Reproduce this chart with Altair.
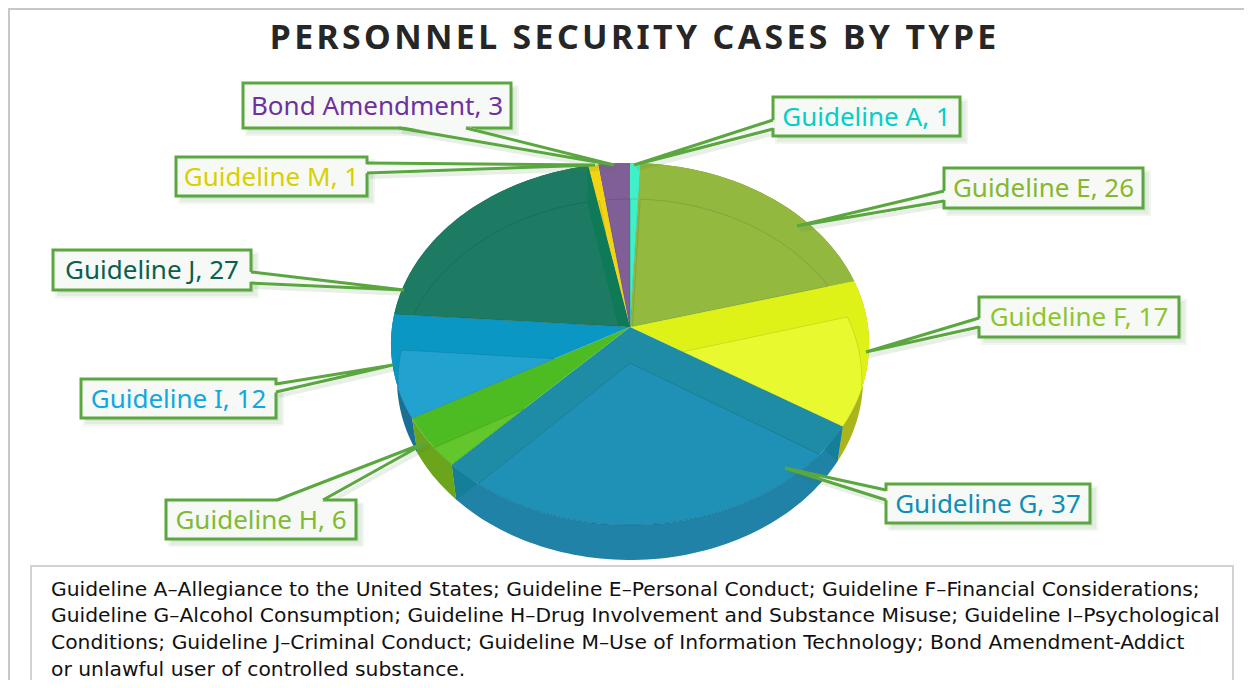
import math
import altair as alt
import pandas as pd

# ---- chart values ----
categories = ["Guideline A", "Guideline E", "Guideline F", "Guideline G", "Guideline H",
              "Guideline I", "Guideline J", "Guideline M", "Bond Amendment"]
values = [1, 26, 17, 37, 6, 12, 27, 1, 3]
label_colors = ["#05cdc8", "#86b82f", "#8dc52f", "#0d8fb5", "#7fbb35", "#0fa8e0", "#0b5f4e", "#d9d000", "#7030a0"]
band_colors = ["#3ff0c8", "#93b83f", "#dff218", "#1e8ca5", "#4dbb22", "#0b97c4", "#1d7b63", "#f2d414", "#7f5f96"]
inner_colors = ["#3ff0c8", "#93b93f", "#e8f92f", "#1f90b6", "#62c72b", "#22a3cf", "#1d7b64", "#f2d414", "#7f5f96"]
wall_colors = ["#2cc09a", "#6f9a2a", "#a9b51a", "#1f82a6", "#6aa51b", "#1a6f95", "#125f4a", "#b9a010", "#5a4570"]
title_text = "PERSONNEL SECURITY CASES BY TYPE"
note_lines = [
    "Guideline A–Allegiance to the United States; Guideline E–Personal Conduct; Guideline F–Financial Considerations;",
    "Guideline G–Alcohol Consumption; Guideline H–Drug Involvement and Substance Misuse; Guideline I–Psychological",
    "Conditions; Guideline J–Criminal Conduct; Guideline M–Use of Information Technology; Bond Amendment-Addict",
    "or unlawful user of controlled substance.",
]

# ---- layout (page pixels) ----
CX, CY = 630, 327
RX, RY, PERSP = 238, 179.4, 0.0939
# box x0, x1, y0, y1 ; leader base a, base b, tip
callouts = {
    "Guideline A": (773, 960, 97, 136, (773, 120), (773, 129), (634, 165)),
    "Guideline E": (944, 1143, 168, 208, (944, 191), (944, 201), (797, 226)),
    "Guideline F": (979, 1179, 297, 337, (979, 318), (979, 327), (866, 352)),
    "Guideline G": (886, 1090, 484, 523, (886, 490), (886, 500), (785, 468)),
    "Guideline H": (166, 356, 500, 539, (277, 500), (323, 500), (427, 442)),
    "Guideline I": (81, 276, 379, 418, (276, 384), (276, 392), (393, 365)),
    "Guideline J": (53, 251, 250, 290, (251, 272), (251, 283), (404, 290)),
    "Guideline M": (176, 367, 157, 196, (367, 163), (367, 173), (595, 165)),
    "Bond Amendment": (243, 511, 83, 128, (399, 128), (466, 128), (614, 165)),
}


def persp(theta):
    u, v = math.sin(theta), math.cos(theta)
    d = 1 + PERSP * v
    return CX + RX * u / d, CY - RY * v / d


def lower(p):
    return CX + (p[0] - CX) * 0.975, p[1] + 35


def arc(t0, t1, fn):
    n = max(2, int(abs(t1 - t0) / math.radians(1.5)))
    return [fn(t0 + (t1 - t0) * i / n) for i in range(n + 1)]


def clip_convex(poly, clipper):
    area = sum(clipper[i][0] * clipper[(i + 1) % len(clipper)][1] - clipper[(i + 1) % len(clipper)][0] * clipper[i][1]
               for i in range(len(clipper)))
    sign = 1 if area > 0 else -1
    out = poly
    for i in range(len(clipper)):
        a, b = clipper[i], clipper[(i + 1) % len(clipper)]
        if abs(a[0] - b[0]) + abs(a[1] - b[1]) < 1e-9:
            continue
        side = lambda p: sign * ((b[0] - a[0]) * (p[1] - a[1]) - (b[1] - a[1]) * (p[0] - a[0]))
        new = []
        for j in range(len(out)):
            p, q = out[j], out[(j + 1) % len(out)]
            sp, sq = side(p), side(q)
            if sp >= 0:
                new.append(p)
            if sp * sq < 0:
                t = sp / (sp - sq)
                new.append((p[0] + t * (q[0] - p[0]), p[1] + t * (q[1] - p[1])))
        out = new
        if not out:
            break
    return out


def feat(points, fill="none", stroke="none"):
    pts = [list(p) for p in points]
    pts = pts + [pts[0]]
    return {"type": "Feature", "properties": {"fill": fill, "stroke": stroke},
            "geometry": {"type": "Polygon", "coordinates": [pts]}}


def line_feat(lines, stroke):
    return {"type": "Feature", "properties": {"fill": "none", "stroke": stroke},
            "geometry": {"type": "MultiLineString", "coordinates": [[list(p) for p in l] for l in lines]}}


def rect(x0, x1, y0, y1):
    return [(x0, y0), (x1, y0), (x1, y1), (x0, y1)]


total = sum(values)
walls, tops, inners, stripes = [], [], [], []
cum = 0
for cat, val, band, inner, wall in zip(categories, values, band_colors, inner_colors, wall_colors):
    t0 = cum / total * 2 * math.pi
    cum += val
    t1 = cum / total * 2 * math.pi
    top_arc = arc(t0, t1, persp)
    low = [lower(p) for p in top_arc]
    walls.append(feat(top_arc + low[::-1], wall))
    if cat == "Guideline G":
        d = math.radians(8)
        walls.append(feat([persp(t0), lower(persp(t0)), persp(t0 + d)], "#157f9a"))
        walls.append(feat([persp(t1), lower(persp(t1)), persp(t1 - d)], "#157f9a"))
    wedge = [(CX, CY)] + top_arc
    tops.append(feat(wedge, band))
    shifted = [(CX + (x - CX) * 0.97, y + 36) for x, y in wedge]
    cl = clip_convex(shifted, wedge)
    if len(cl) > 2:
        inners.append(feat(cl, inner, "#000000"))
    if cat == "Guideline J":
        p = persp(t1)
        stripes.append(feat([p, (p[0] - 1, p[1] + 37), (CX - 12, CY - 1), (CX, CY)], "#0e7a58"))

shadow_box, shadow_lines, boxes, leader_fill, leader_lines, label_rows = [], [], [], [], [], []
for cat, val, col in zip(categories, values, label_colors):
    x0, x1, y0, y1, a, b, tip = callouts[cat]
    for off, grow in ((5, 3), (5, 1), (4, -1)):
        shadow_box.append(feat(rect(x0 + off - grow, x1 + off + grow, y0 + off - grow, y1 + off + grow), "#3f7f2f"))
    shadow_lines.append(line_feat([[(a[0] + 3, a[1] + 4), (tip[0] + 3, tip[1] + 4)],
                                   [(b[0] + 3, b[1] + 4), (tip[0] + 3, tip[1] + 4)]], "#3f7f2f"))
    boxes.append(feat(rect(x0, x1, y0, y1), "#f6f9f5", "#5aa73f"))
    mx, my = (x0 + x1) / 2, (y0 + y1) / 2
    ia = (a[0] + (mx - a[0]) * 0.02, a[1] + (my - a[1]) * 0.1)
    ib = (b[0] + (mx - b[0]) * 0.02, b[1] + (my - b[1]) * 0.1)
    leader_fill.append(feat([ia, tip, ib], "#f6f9f5"))
    leader_lines.append(line_feat([[a, tip], [b, tip]], "#5aa73f"))
    label_rows.append({"t": f"{cat}, {val}", "x": mx - 8, "y": my - 8 + 1, "c": col})

frame = [line_feat([[(9, 688), (9, 9), (1252, 9)]], "#c8c8c8")]
note_box = [feat(rect(31, 1233, 566, 700), "#ffffff", "#d2d2d2")]


def geo(features, **kw):
    return (alt.Chart(alt.Data(values=features))
            .mark_geoshape(**kw)
            .encode(fill=alt.Fill("properties.fill:N", scale=None),
                    stroke=alt.Stroke("properties.stroke:N", scale=None))
            .project(type="identity", scale=1, translate=[-8, -8], reflectY=False))


def txt(rows, **kw):
    return (alt.Chart(pd.DataFrame(rows))
            .mark_text(align=kw.pop("align", "center"), baseline="middle", **kw)
            .encode(x=alt.X("x:Q", scale=None, axis=None),
                    y=alt.Y("y:Q", scale=None, axis=None),
                    text="t:N", color=alt.Color("c:N", scale=None)))


spaced_title = "\u200a".join(title_text)
title_rows = [{"t": spaced_title, "x": 633 - 8, "y": 39 - 8, "c": "#262626"}]
note_rows = [{"t": t, "x": 51 - 8, "y": y - 8, "c": "#111111"}
             for t, y in zip(note_lines, (590, 616, 643, 670))]

chart = alt.layer(
    geo(frame, strokeWidth=2),
    geo(note_box, strokeWidth=2),
    geo(walls, strokeWidth=0),
    geo(tops, strokeWidth=0),
    geo(inners, strokeWidth=0.7, strokeOpacity=0.15),
    geo(stripes, strokeWidth=0),
    geo(shadow_box, strokeWidth=0, opacity=0.07),
    geo(shadow_lines, strokeWidth=4, opacity=0.12),
    geo(boxes, strokeWidth=3),
    geo(leader_fill, strokeWidth=0),
    geo(leader_lines, strokeWidth=3),
    txt(label_rows, font="Noto Sans", fontSize=26),
    txt(title_rows, font="Noto Sans", fontSize=33.8, fontWeight="bold"),
    txt(note_rows, font="DejaVu Sans", fontSize=20.3, align="left"),
).properties(width=1236, height=672, padding=0, autosize=alt.AutoSizeParams(type="none"), background="#ffffff"
).configure_view(stroke=None)

chart.save("out.html", embed_options={"renderer": "svg", "actions": False})
